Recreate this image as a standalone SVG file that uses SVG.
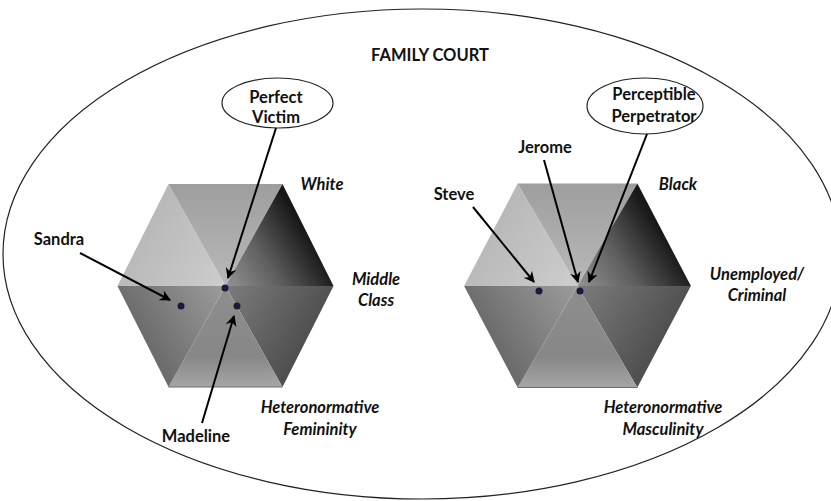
<svg xmlns="http://www.w3.org/2000/svg" width="831" height="501" viewBox="0 0 831 501">
<style>
.t{font-family:Lato,"Liberation Sans",sans-serif;font-weight:bold;font-size:16.5px;fill:#111;text-anchor:middle}
.i{font-style:italic}
.ln{stroke:#000;stroke-width:2;fill:none;marker-end:url(#ah)}
.ov{fill:#fff;stroke:#222;stroke-width:1.2}
.dot{fill:#1c1a38}
</style>
<defs>
<marker id="ah" viewBox="0 0 10 10" refX="9" refY="5" markerWidth="5.5" markerHeight="5.5" markerUnits="strokeWidth" orient="auto">
<path d="M0,0 L10,5 L0,10 L3,5 z" fill="#000"/>
</marker>
<linearGradient id="gUL" gradientUnits="userSpaceOnUse" x1="-82" y1="-51" x2="0" y2="0"><stop offset="0" stop-color="#b9b9b9"/><stop offset="1" stop-color="#cdcdcd"/></linearGradient>
<linearGradient id="gT" gradientUnits="userSpaceOnUse" x1="0" y1="-102" x2="0" y2="0"><stop offset="0" stop-color="#9e9e9e"/><stop offset="1" stop-color="#b9b9b9"/></linearGradient>
<linearGradient id="gUR" gradientUnits="userSpaceOnUse" x1="82" y1="-51" x2="0" y2="0"><stop offset="0" stop-color="#181818"/><stop offset="0.5" stop-color="#5e5e5e"/><stop offset="1" stop-color="#939393"/></linearGradient>
<linearGradient id="gLR" gradientUnits="userSpaceOnUse" x1="82" y1="51" x2="0" y2="0"><stop offset="0" stop-color="#505050"/><stop offset="1" stop-color="#7c7c7c"/></linearGradient>
<linearGradient id="gB" gradientUnits="userSpaceOnUse" x1="0" y1="101" x2="0" y2="0"><stop offset="0" stop-color="#a6a6a6"/><stop offset="0.3" stop-color="#878787"/><stop offset="1" stop-color="#8e8e8e"/></linearGradient>
<linearGradient id="gLL" gradientUnits="userSpaceOnUse" x1="-82" y1="51" x2="0" y2="0"><stop offset="0" stop-color="#6c6c6c"/><stop offset="1" stop-color="#9c9c9c"/></linearGradient>
<g id="hex">
<polygon points="-108,0 -57,-102 0,0" fill="url(#gUL)"/>
<polygon points="-57,-102 57,-102 0,0" fill="url(#gT)"/>
<polygon points="57,-102 108,0 0,0" fill="url(#gUR)"/>
<polygon points="108,0 57,101 0,0" fill="url(#gLR)"/>
<polygon points="57,101 -57,101 0,0" fill="url(#gB)"/>
<polygon points="-57,101 -108,0 0,0" fill="url(#gLL)"/>
<line x1="-57" y1="101" x2="57" y2="101" stroke="#6a6a6a" stroke-width="1"/>
</g>
</defs>
<rect width="831" height="501" fill="#fff"/>
<g id="family-court">
<ellipse cx="422" cy="254" rx="419" ry="245" fill="none" stroke="#222" stroke-width="1.2"/>
<text class="t" x="430" y="61" font-size="18.5">FAMILY COURT</text>
</g>
<g id="hex-left">
<use href="#hex" transform="translate(225.5,286)"/>
<circle class="dot" cx="225" cy="288" r="3.5"/>
<circle class="dot" cx="181" cy="306" r="3.5"/>
<circle class="dot" cx="237" cy="306" r="3.5"/>
</g>
<g id="hex-right">
<use href="#hex" transform="translate(577.5,286) scale(1.05,1.005)"/>
<circle class="dot" cx="539" cy="291" r="3.5"/>
<circle class="dot" cx="580" cy="291" r="3.5"/>
</g>
<g id="perfect-victim">
<ellipse class="ov" cx="277.5" cy="103" rx="55.5" ry="25"/>
<text class="t" x="276" y="103">Perfect</text>
<text class="t" x="276" y="123">Victim</text>
</g>
<g id="perceptible-perpetrator">
<ellipse class="ov" cx="645" cy="106" rx="58" ry="28"/>
<text class="t" x="654" y="100">Perceptible</text>
<text class="t" x="654" y="122">Perpetrator</text>
</g>
<g id="labels">
<text class="t" x="59" y="245">Sandra</text>
<text class="t" x="196" y="442">Madeline</text>
<text class="t" x="454" y="200">Steve</text>
<text class="t" x="545" y="153">Jerome</text>
<text class="t i" x="322" y="190">White</text>
<text class="t i" x="678" y="190">Black</text>
<text class="t i" x="376" y="285">Middle</text>
<text class="t i" x="376" y="306">Class</text>
<text class="t i" x="757" y="280">Unemployed/</text>
<text class="t i" x="757" y="301">Criminal</text>
<text class="t i" x="320" y="413">Heteronormative</text>
<text class="t i" x="320" y="435">Femininity</text>
<text class="t i" x="663" y="413">Heteronormative</text>
<text class="t i" x="663" y="435">Masculinity</text>
</g>
<g id="connectors">
<line class="ln" x1="276" y1="128" x2="228" y2="278"/>
<line class="ln" x1="80" y1="253" x2="170" y2="300"/>
<line class="ln" x1="202" y1="423" x2="234" y2="316"/>
<line class="ln" x1="473" y1="207" x2="534" y2="282"/>
<line class="ln" x1="544" y1="160" x2="578" y2="282"/>
<line class="ln" x1="647" y1="134" x2="589" y2="282"/>
</g>
</svg>
